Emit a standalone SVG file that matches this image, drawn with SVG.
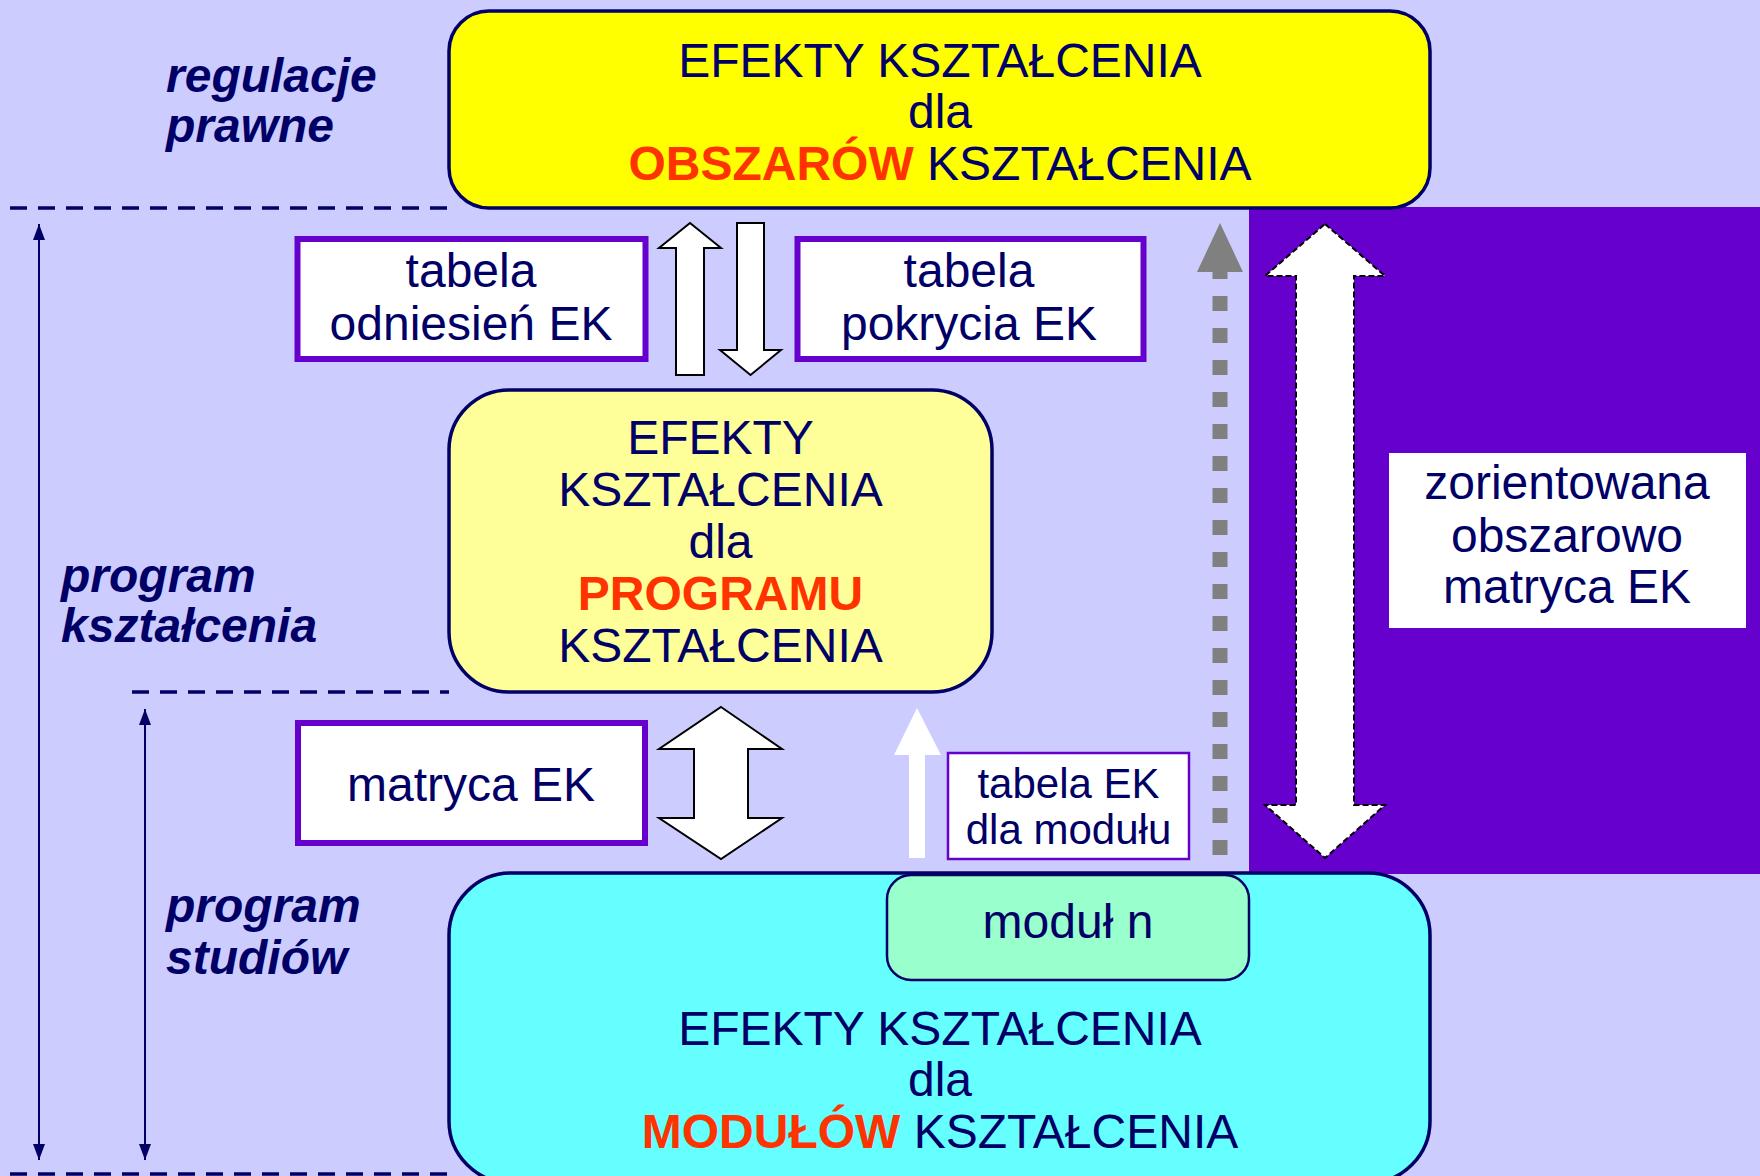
<svg xmlns="http://www.w3.org/2000/svg" width="1760" height="1176" viewBox="0 0 1760 1176">
<style>
text{font-family:"Liberation Sans",Arial,sans-serif;fill:#000066;font-size:48px;text-anchor:middle}
.lbl{font-weight:bold;font-style:italic;text-anchor:start}
.red{fill:#FF3300;font-weight:bold}
.sm{font-size:42px}
.tbl{fill:#FFFFFF;stroke:#6600CC;stroke-width:6}
.sep{stroke:#000066;stroke-width:3.5;stroke-dasharray:17 11;fill:none}
.dim{stroke:#000066;stroke-width:2;fill:none;marker-start:url(#ah);marker-end:url(#ah)}
.hollow{fill:#FFFFFF;stroke:#000000;stroke-width:2;stroke-linejoin:miter}
</style>
<defs>
<marker id="ah" viewBox="0 0 16 12" refX="16" refY="6" markerWidth="16" markerHeight="12" markerUnits="userSpaceOnUse" orient="auto-start-reverse">
<path d="M0,0 L16,6 L0,12 z" fill="#000066"/>
</marker>
</defs>
<rect x="0" y="0" width="1760" height="1176" fill="#CCCCFF"/>
<rect x="1249" y="207" width="511" height="667" fill="#6600CC"/>

<g id="separators">
<line class="sep" x1="10" y1="208" x2="449" y2="208"/>
<line class="sep" x1="132" y1="692" x2="449" y2="692"/>
<line class="sep" x1="10" y1="1174" x2="449" y2="1174"/>
</g>

<g id="label-regulacje">
<text class="lbl" x="166" y="92">regulacje</text>
<text class="lbl" x="166" y="142">prawne</text>
</g>
<g id="label-program-ksztalcenia">
<text class="lbl" x="61" y="592">program</text>
<text class="lbl" x="61" y="642">kształcenia</text>
</g>
<g id="label-program-studiow">
<text class="lbl" x="166" y="922">program</text>
<text class="lbl" x="166" y="974">studiów</text>
</g>

<g id="connectors">
<line class="dim" x1="39" y1="224" x2="39" y2="1160"/>
<line class="dim" x1="145" y1="709" x2="145" y2="1160"/>
<polygon class="hollow" points="690,223 721,248 704,248 704,375 676,375 676,248 659,248"/>
<polygon class="hollow" points="737,223 764,223 764,350 781,350 750.5,375 720,350 737,350"/>
<polygon class="hollow" points="721,707 782,749 748,749 748,818 782,818 721,859 659,818 694,818 694,749 659,749"/>
<polygon points="917,708 941,755 925,755 925,858 909,858 909,755 894,755" fill="#FFFFFF"/>
<line x1="1220" y1="855" x2="1220" y2="272" stroke="#808080" stroke-width="15" stroke-dasharray="15 17"/>
<polygon points="1220,223 1243,272 1197,272" fill="#808080"/>
<polygon points="1325,224 1385,276 1354,276 1354,805 1385,805 1325,858 1265,805 1296,805 1296,276 1265,276" fill="#FFFFFF" stroke="#000000" stroke-width="2" stroke-dasharray="6 3"/>
</g>

<g id="node-obszary">
<rect x="449" y="11" width="981" height="197" rx="40" ry="40" fill="#FFFF00" stroke="#000066" stroke-width="3.5"/>
<text x="940" y="77">EFEKTY KSZTAŁCENIA</text>
<text x="940" y="128">dla</text>
<text x="940" y="180"><tspan class="red">OBSZARÓW</tspan> KSZTAŁCENIA</text>
</g>

<g id="node-tabela-odniesien">
<rect class="tbl" x="297.5" y="239" width="348" height="120"/>
<text x="471" y="287">tabela</text>
<text x="471" y="340">odniesień EK</text>
</g>

<g id="node-tabela-pokrycia">
<rect class="tbl" x="797.5" y="239" width="346" height="120"/>
<text x="969" y="287">tabela</text>
<text x="969" y="340">pokrycia EK</text>
</g>

<g id="node-program">
<rect x="449" y="390" width="543" height="302" rx="60" ry="60" fill="#FFFF99" stroke="#000066" stroke-width="3.5"/>
<text x="720.5" y="454">EFEKTY</text>
<text x="720.5" y="506">KSZTAŁCENIA</text>
<text x="720.5" y="558">dla</text>
<text x="720.5" y="610" class="red">PROGRAMU</text>
<text x="720.5" y="662">KSZTAŁCENIA</text>
</g>

<g id="node-matryca">
<rect class="tbl" x="298" y="723" width="347" height="120"/>
<text x="471" y="801">matryca EK</text>
</g>

<g id="node-tabela-modulu">
<rect x="948" y="753" width="241" height="106" fill="#FFFFFF" stroke="#6600CC" stroke-width="2.5"/>
<text class="sm" x="1068.5" y="798">tabela EK</text>
<text class="sm" x="1068.5" y="844">dla modułu</text>
</g>

<g id="node-zorientowana">
<rect x="1389" y="453" width="357" height="175" fill="#FFFFFF"/>
<text x="1567" y="499">zorientowana</text>
<text x="1567" y="552">obszarowo</text>
<text x="1567" y="603">matryca EK</text>
</g>

<g id="node-moduly">
<rect x="449" y="873" width="981" height="310" rx="62" ry="62" fill="#66FFFF" stroke="#000066" stroke-width="3.5"/>
<text x="940" y="1045">EFEKTY KSZTAŁCENIA</text>
<text x="940" y="1096">dla</text>
<text x="940" y="1148"><tspan class="red">MODUŁÓW</tspan> KSZTAŁCENIA</text>
</g>

<g id="node-modul-n">
<rect x="887" y="875" width="362" height="105" rx="24" ry="24" fill="#99FFCC" stroke="#000066" stroke-width="2.5"/>
<text x="1068" y="938">moduł n</text>
</g>
</svg>
